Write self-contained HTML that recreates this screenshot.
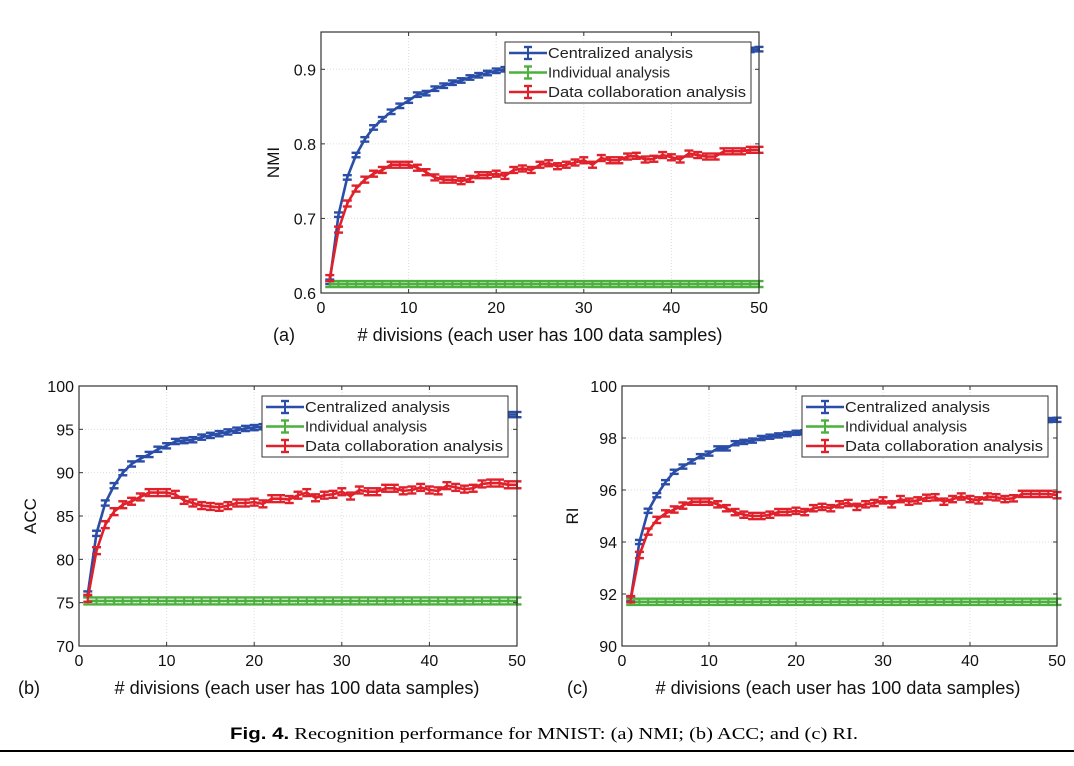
<!DOCTYPE html>
<html><head><meta charset="utf-8">
<style>
body{margin:0;background:#fff;width:1074px;height:766px;overflow:hidden;font-family:"Liberation Sans",sans-serif;}
svg{display:block}
</style></head>
<body>
<svg id="fig" width="1074" height="766" viewBox="0 0 1074 766" xmlns="http://www.w3.org/2000/svg">
<text x="230" y="739" font-size="17" textLength="628" lengthAdjust="spacingAndGlyphs"><tspan font-family="Liberation Sans" font-weight="bold">Fig. 4.</tspan><tspan font-family="Liberation Serif"> Recognition performance for MNIST: (a) NMI; (b) ACC; and (c) RI.</tspan></text>
<line x1="0" y1="751" x2="1074" y2="751" stroke="#000" stroke-width="2"/>
</svg>
<script>
const xs = Array.from({length:50},(_, i)=>i+1);
const nmiCentral = [0.615,0.705,0.755,0.785,0.806,0.822,0.833,0.843,0.851,0.858,0.866,0.868,0.874,0.878,0.882,0.885,0.889,0.892,0.895,0.898,0.900,0.902,0.903,0.905,0.906,0.907,0.908,0.909,0.910,0.911,0.912,0.913,0.914,0.915,0.916,0.917,0.918,0.919,0.919,0.920,0.921,0.921,0.922,0.923,0.923,0.924,0.925,0.925,0.926,0.927];
const nmiIndividual = [0.612,0.612,0.612,0.612,0.612,0.612,0.612,0.612,0.612,0.612,0.612,0.612,0.612,0.612,0.612,0.612,0.612,0.612,0.612,0.612,0.612,0.612,0.612,0.612,0.612,0.612,0.612,0.612,0.612,0.612,0.612,0.612,0.612,0.612,0.612,0.612,0.612,0.612,0.612,0.612,0.612,0.612,0.612,0.612,0.612,0.612,0.612,0.612,0.612,0.612];
const nmiCollab = [0.62,0.685,0.72,0.74,0.752,0.76,0.765,0.772,0.772,0.772,0.768,0.762,0.755,0.752,0.752,0.75,0.753,0.758,0.758,0.76,0.757,0.765,0.767,0.765,0.772,0.774,0.77,0.772,0.775,0.778,0.772,0.781,0.778,0.778,0.783,0.784,0.779,0.78,0.785,0.782,0.779,0.787,0.785,0.783,0.783,0.79,0.79,0.79,0.792,0.792];
const accCentral = [76,83,86.5,88.5,90,91,91.6,92.1,92.7,93.1,93.6,93.7,93.8,94.1,94.3,94.5,94.7,94.9,95.1,95.2,95.3,95.4,95.5,95.6,95.6,95.7,95.8,95.8,95.9,95.9,96,96,96.1,96.1,96.2,96.2,96.3,96.3,96.3,96.4,96.4,96.5,96.5,96.5,96.6,96.6,96.6,96.7,96.7,96.7];
const accIndividual = [75.2,75.2,75.2,75.2,75.2,75.2,75.2,75.2,75.2,75.2,75.2,75.2,75.2,75.2,75.2,75.2,75.2,75.2,75.2,75.2,75.2,75.2,75.2,75.2,75.2,75.2,75.2,75.2,75.2,75.2,75.2,75.2,75.2,75.2,75.2,75.2,75.2,75.2,75.2,75.2,75.2,75.2,75.2,75.2,75.2,75.2,75.2,75.2,75.2,75.2];
const accCollab = [75.5,81,84,85.5,86.3,86.7,87.2,87.7,87.7,87.7,87.5,86.8,86.5,86.2,86.1,86,86.2,86.5,86.5,86.6,86.4,87,87,86.9,87.4,87.7,87.1,87.4,87.5,87.8,87.3,88,87.8,87.8,88.2,88.2,87.9,88,88.3,88,87.9,88.5,88.3,88.1,88.2,88.7,88.8,88.8,88.6,88.6];
const riCentral = [91.8,94,95.2,95.8,96.3,96.7,96.9,97.1,97.3,97.4,97.6,97.6,97.8,97.85,97.9,98,98.05,98.1,98.15,98.2,98.22,98.25,98.28,98.3,98.33,98.35,98.38,98.4,98.42,98.44,98.46,98.48,98.5,98.51,98.52,98.54,98.55,98.57,98.58,98.6,98.61,98.62,98.63,98.64,98.65,98.66,98.67,98.68,98.69,98.7];
const riIndividual = [91.7,91.7,91.7,91.7,91.7,91.7,91.7,91.7,91.7,91.7,91.7,91.7,91.7,91.7,91.7,91.7,91.7,91.7,91.7,91.7,91.7,91.7,91.7,91.7,91.7,91.7,91.7,91.7,91.7,91.7,91.7,91.7,91.7,91.7,91.7,91.7,91.7,91.7,91.7,91.7,91.7,91.7,91.7,91.7,91.7,91.7,91.7,91.7,91.7,91.7];
const riCollab = [91.8,93.5,94.4,94.85,95.1,95.25,95.4,95.55,95.55,95.55,95.45,95.3,95.15,95.05,95.0,95.0,95.05,95.15,95.15,95.2,95.15,95.3,95.35,95.3,95.45,95.5,95.35,95.45,95.5,95.6,95.45,95.65,95.55,95.6,95.7,95.72,95.55,95.65,95.75,95.65,95.6,95.75,95.72,95.65,95.68,95.85,95.85,95.85,95.85,95.8];
const xTicks = [0,10,20,30,40,50];
const nmiTicks = [0.6,0.7,0.8,0.9];
const accTicks = [70,75,80,85,90,95,100];
const riTicks = [90,92,94,96,98,100];
const legendLabels = ["Centralized analysis","Individual analysis","Data collaboration analysis"];
const legendWidths = [145,122,198];

const NS="http://www.w3.org/2000/svg";
const svg=document.getElementById('fig');
function mk(tag,attrs,parent){const e=document.createElementNS(NS,tag);for(const k in attrs)e.setAttribute(k,attrs[k]);(parent||svg).appendChild(e);return e;}
const colors=["#2a4ea8","#4caf3e","#e0202a"];

function plot(cfg){
  const g=mk('g',{});
  
  
  const X=v=>cfg.L+(v-0)/50*(cfg.R-cfg.L);
  const Y=v=>cfg.B-(v-cfg.ymin)/(cfg.ymax-cfg.ymin)*(cfg.B-cfg.T);
  xTicks.forEach(t=>{ if(t>0&&t<50){const l=mk('line',{x1:X(t),x2:X(t),y1:cfg.T,y2:cfg.B,stroke:'#ddd','stroke-dasharray':'1,2'},g);
    
    }});
  cfg.yt.forEach(t=>{ if(t>cfg.ymin&&t<cfg.ymax){const l=mk('line',{x1:cfg.L,x2:cfg.R,y1:Y(t),y2:Y(t),stroke:'#ddd','stroke-dasharray':'1,2'},g);
    
    }});
  const errs=cfg.err;
  cfg.series.forEach((s,si)=>{
    const sg=mk('g',{},g);
    
    
    const pts=xs.map((x,i)=>X(x)+','+Y(s[i])).join(' ');
    mk('polyline',{points:pts,fill:'none',stroke:colors[si],'stroke-width':2.6},sg);
    xs.forEach((x,i)=>{
      const cx=X(x),e=errs[si];
      const y1=Y(s[i]+e),y2=Y(s[i]-e);
      mk('line',{x1:cx,x2:cx,y1:y1,y2:y2,stroke:colors[si],'stroke-width':2},sg);
      mk('line',{x1:cx-4.5,x2:cx+4.5,y1:y1,y2:y1,stroke:colors[si],'stroke-width':2.4},sg);
      mk('line',{x1:cx-4.5,x2:cx+4.5,y1:y2,y2:y2,stroke:colors[si],'stroke-width':2.4},sg);
    });
  });
  const box=mk('rect',{x:cfg.L,y:cfg.T,width:cfg.R-cfg.L,height:cfg.B-cfg.T,fill:'none',stroke:'#333','stroke-width':1.2},g);
  
  
  xTicks.forEach(t=>{
    mk('line',{x1:X(t),x2:X(t),y1:cfg.B,y2:cfg.B-4,stroke:'#333'},g);
    mk('line',{x1:X(t),x2:X(t),y1:cfg.T,y2:cfg.T+4,stroke:'#333'},g);
    const tx=mk('text',{x:X(t),y:cfg.B+20,'text-anchor':'middle','font-size':16,fill:'#111'},g);
    tx.textContent=t;
    
    
  });
  cfg.yt.forEach(t=>{
    mk('line',{x1:cfg.L,x2:cfg.L+4,y1:Y(t),y2:Y(t),stroke:'#333'},g);
    mk('line',{x1:cfg.R,x2:cfg.R-4,y1:Y(t),y2:Y(t),stroke:'#333'},g);
    const tx=mk('text',{x:cfg.L-5,y:Y(t)+6,'text-anchor':'end','font-size':16,fill:'#111'},g);
    tx.textContent=cfg.fmt(t);
    
    
  });
  const xlw=365;
  const xl=mk('text',{x:cfg.xlc-xlw/2,y:cfg.B+48,'font-size':18,fill:'#111',textLength:xlw,lengthAdjust:'spacingAndGlyphs'},g);
  xl.textContent='# divisions (each user has 100 data samples)';
  
  
  const yl=mk('text',{x:0,y:0,'text-anchor':'middle','font-size':17,fill:'#111',transform:`translate(${cfg.ylx},${(cfg.T+cfg.B)/2}) rotate(-90)`},g);
  yl.textContent=cfg.ylabel;
  
  
  const pl=mk('text',{x:cfg.plx,y:cfg.B+48,'font-size':18,fill:'#111'},g);
  pl.textContent=cfg.panel;
  
  
  const lg=mk('g',{},g);
  
  
  mk('rect',{x:cfg.lx,y:cfg.ly,width:246,height:61,fill:'#fff',stroke:'#333'},lg);
  legendLabels.forEach((lab,i)=>{
    const yy=cfg.ly+11+i*19.5;
    const eg=mk('g',{},lg);
    
    
    mk('line',{x1:cfg.lx+4,x2:cfg.lx+42,y1:yy,y2:yy,stroke:colors[i],'stroke-width':2.6},eg);
    mk('line',{x1:cfg.lx+23,x2:cfg.lx+23,y1:yy-6,y2:yy+6,stroke:colors[i],'stroke-width':2},eg);
    mk('line',{x1:cfg.lx+19,x2:cfg.lx+27,y1:yy-6,y2:yy-6,stroke:colors[i],'stroke-width':2.4},eg);
    mk('line',{x1:cfg.lx+19,x2:cfg.lx+27,y1:yy+6,y2:yy+6,stroke:colors[i],'stroke-width':2.4},eg);
    const t=mk('text',{x:cfg.lx+43,y:yy+5,'font-size':15,fill:'#222',textLength:legendWidths[i],lengthAdjust:'spacingAndGlyphs'},eg);
    t.textContent=lab;
  });
}
plot({id:'nmi',L:321,R:759,T:32,B:293,ymin:0.6,ymax:0.95,yt:nmiTicks,fmt:t=>t.toFixed(1),
  series:[nmiCentral,nmiIndividual,nmiCollab],err:[0.003,0.004,0.004],ylabel:'NMI',ylx:279,plx:273,panel:'(a)',lx:505,ly:42,xlc:540});
plot({id:'acc',L:79,R:517,T:386,B:646,ymin:70,ymax:100,yt:accTicks,fmt:t=>t,
  series:[accCentral,accIndividual,accCollab],err:[0.3,0.4,0.4],ylabel:'ACC',ylx:36,plx:18,panel:'(b)',lx:262,ly:396,xlc:297});
plot({id:'ri',L:622,R:1057,T:386,B:646,ymin:90,ymax:100,yt:riTicks,fmt:t=>t,
  series:[riCentral,riIndividual,riCollab],err:[0.08,0.12,0.12],ylabel:'RI',ylx:578,plx:567,panel:'(c)',lx:802,ly:396,xlc:838});
</script>
</body></html>
